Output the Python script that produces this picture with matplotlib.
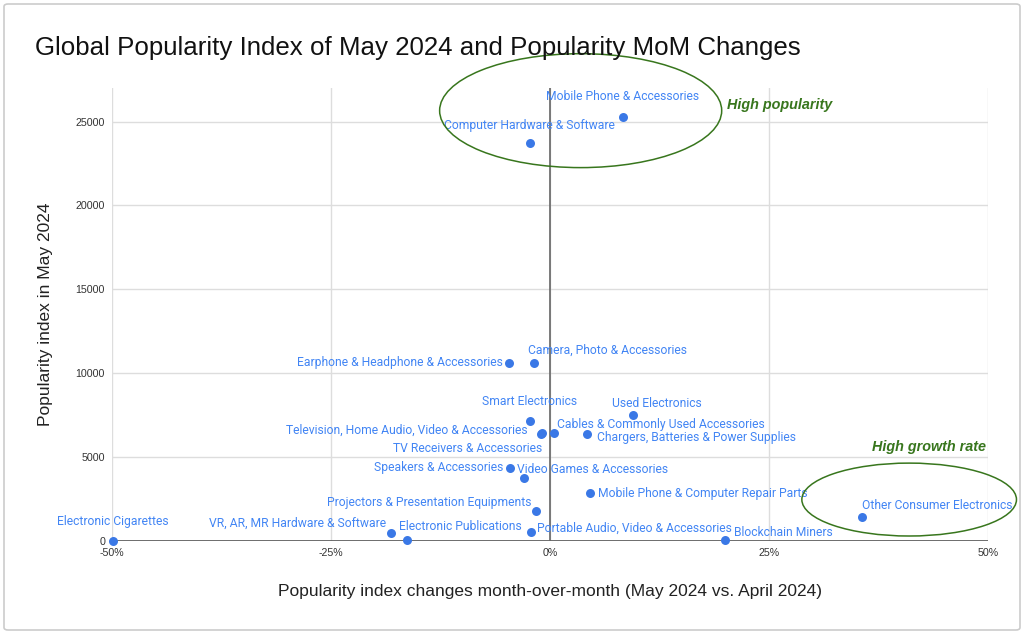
import matplotlib
matplotlib.use("Agg")
import matplotlib.pyplot as plt
from matplotlib.patches import Ellipse, FancyBboxPatch
from matplotlib.ticker import FuncFormatter

categories = [
    "Mobile Phone & Accessories",
    "Computer Hardware & Software",
    "Camera, Photo & Accessories",
    "Earphone & Headphone & Accessories",
    "Smart Electronics",
    "Used Electronics",
    "Cables & Commonly Used Accessories",
    "Chargers, Batteries & Power Supplies",
    "Television, Home Audio, Video & Accessories",
    "TV Receivers & Accessories",
    "Speakers & Accessories",
    "Video Games & Accessories",
    "Mobile Phone & Computer Repair Parts",
    "Projectors & Presentation Equipments",
    "VR, AR, MR Hardware & Software",
    "Electronic Publications",
    "Portable Audio, Video & Accessories",
    "Blockchain Miners",
    "Other Consumer Electronics",
    "Electronic Cigarettes",
]
mom_change = [8.3, -2.3, -1.8, -4.7, -2.3, 9.5, 0.5, 4.2, -0.9, -1.0,
              -4.6, -3.0, 4.6, -1.6, -18.2, -16.3, -2.2, 20.0, 35.6, -49.9]
popularity = [25300, 23700, 10600, 10600, 7150, 7500, 6430, 6370, 6420, 6400,
              4350, 3750, 2860, 1790, 480, 60, 550, 50, 1450, 0]

# label placement: (ha, dx px, dy px)
label_pos = [
    ("center", 0, 20), ("center", 0, 18), ("left", -6, 13), ("right", -6, 1),
    ("center", 0, 20), ("left", -21, 12), ("left", 3, 9), ("left", 10, -3),
    ("right", -14, 3), ("right", 1, -15), ("right", -6, 1), ("left", -7, 9),
    ("left", 8, 0), ("right", -4, 8), ("right", -4, 10), ("left", -8, 13),
    ("left", 6, 4), ("left", 9, 8), ("left", 0, 11), ("center", 0, 20),
]

blue = "#4285F4"
dot = "#3a78e6"
green = "#38761d"

fig = plt.figure(figsize=(10.24, 6.34), dpi=100)
ax = fig.add_axes([112 / 1024, 1 - 541 / 634, 876 / 1024, 453 / 634])

ax.scatter(mom_change, popularity, s=42, color=dot, zorder=4, clip_on=False,
           linewidths=0)

px = 72 / 100
for name, xv, yv, (ha, dx, dy) in zip(categories, mom_change, popularity, label_pos):
    ax.annotate(name, (xv, yv), xytext=(dx * px, dy * px), textcoords="offset points",
                ha=ha, va="center", fontsize=8.75, color=blue, family="Roboto",
                zorder=5, annotation_clip=False)

ax.set_xlim(-50, 50)
ax.set_ylim(0, 27000)
ax.set_xticks([-50, -25, 0, 25, 50])
ax.set_yticks([0, 5000, 10000, 15000, 20000, 25000])
ax.xaxis.set_major_formatter(FuncFormatter(lambda v, p: f"{int(v)}%"))
ax.yaxis.set_major_formatter(FuncFormatter(lambda v, p: f"{int(v)}"))
ax.tick_params(length=0, labelsize=7.7, labelcolor="#333333", pad=5)
for lab in ax.get_xticklabels() + ax.get_yticklabels():
    lab.set_family("Liberation Sans")
ax.grid(True, color="#dddddd", linewidth=1)
ax.set_axisbelow(True)
for s in ["top", "right", "left", "bottom"]:
    ax.spines[s].set_visible(False)
ax.axhline(0, color="#555555", linewidth=1.2, zorder=3)
ax.axvline(0, color="#666666", linewidth=1.2, zorder=3)

ax.set_xlabel("Popularity index changes month-over-month (May 2024 vs. April 2024)",
              fontsize=12.5, family="Liberation Sans", color="#222222", labelpad=19)
ax.set_ylabel("Popularity index in May 2024", fontsize=12.5,
              family="Liberation Sans", color="#222222", labelpad=16)

fig.text(35 / 1024, 1 - 48 / 634,
         "Global Popularity Index of May 2024 and Popularity MoM Changes",
         fontsize=18.6, family="Liberation Sans", color="#111111", va="center")

# highlight circles
ax.add_patch(Ellipse((3.5, 25650), 32.2, 6790, fill=False, edgecolor=green,
                     linewidth=1.1, clip_on=False, zorder=6))
ax.add_patch(Ellipse((41.0, 2470), 24.5, 4345, fill=False, edgecolor=green,
                     linewidth=1.1, clip_on=False, zorder=6))
fig.text(727 / 1024, 1 - 105 / 634, "High popularity", fontsize=10.4, color=green,
         weight="bold", style="italic", family="Liberation Sans", va="center")
fig.text(872 / 1024, 1 - 447 / 634, "High growth rate", fontsize=10.4, color=green,
         weight="bold", style="italic", family="Liberation Sans", va="center")

fig.patches.append(FancyBboxPatch((4 / 1024, 4 / 634), 1016 / 1024, 626 / 634,
                                  boxstyle="round,pad=0,rounding_size=0.004",
                                  transform=fig.transFigure, fill=False,
                                  edgecolor="#cccccc", linewidth=1.2))

fig.savefig("out.png", dpi=100)
